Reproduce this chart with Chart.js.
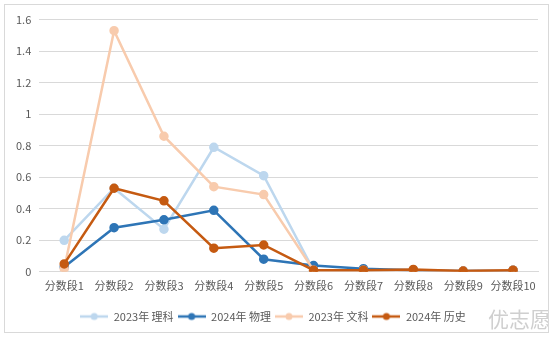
<!DOCTYPE html>
<html>
<head>
<meta charset="utf-8">
<script src="https://cdn.jsdelivr.net/npm/chart.js@4.4.1/dist/chart.umd.min.js"></script>
<style>
    body { margin: 0; background: #fff; }
    #box {
        position: absolute; left: 4px; top: 4px;
        width: 545px; height: 329px; box-sizing: border-box;
        border: 1px solid #d9d9d9; background: #fff;
    }
</style>
</head>
<body>
<div id="box"><canvas id="chart" width="543" height="327"></canvas></div>
<script>
const categories = ['分数段1', '分数段2', '分数段3', '分数段4', '分数段5', '分数段6', '分数段7', '分数段8', '分数段9', '分数段10'];
const seriesNames = ['2023年 理科', '2024年 物理', '2023年 文科', '2024年 历史'];
const like2023 = [0.20, 0.53, 0.27, 0.79, 0.61, 0.01, 0.01, 0.01, 0.005, 0.01];
const phys2024 = [0.03, 0.28, 0.33, 0.39, 0.08, 0.04, 0.02, 0.01, 0.005, 0.01];
const wen2023 = [0.02, 1.53, 0.86, 0.54, 0.49, 0.01, 0.01, 0.01, 0.005, 0.01];
const hist2024 = [0.05, 0.53, 0.45, 0.15, 0.17, 0.01, 0.01, 0.015, 0.005, 0.01];
const colors = ['#bdd7ee', '#2e75b6', '#f8cbad', '#c55a11'];

// small line + dot icon for the legend, like Excel
function legendIcon(color) {
    const c = document.createElement('canvas');
    c.width = 28; c.height = 10;
    const g = c.getContext('2d');
    g.strokeStyle = color;
    g.lineWidth = 2.5;
    g.beginPath();
    g.moveTo(0, 5); g.lineTo(28, 5);
    g.stroke();
    g.fillStyle = color;
    g.beginPath();
    g.arc(14, 5, 3.5, 0, Math.PI * 2);
    g.fill();
    return c;
}

function makeSet(i, data) {
    return {
        label: seriesNames[i],
        data: data,
        borderColor: colors[i],
        backgroundColor: colors[i],
        borderWidth: 2.5,
        pointRadius: 3.5,
        pointHoverRadius: 3.5,
        tension: 0,
        order: 4 - i
    };
}

// watermark text in the bottom right corner
const watermark = {
    id: 'watermark',
    afterDraw(chart) {
        const ctx = chart.ctx;
        ctx.save();
        ctx.font = '21px "Noto Sans CJK SC"';
        ctx.fillStyle = '#cfcfcf';
        ctx.textAlign = 'left';
        ctx.textBaseline = 'middle';
        ctx.fillText('优志愿', 483, 314);
        ctx.restore();
    }
};

const ctx = document.getElementById('chart').getContext('2d');
new Chart(ctx, {
    type: 'line',
    data: {
        labels: categories,
        datasets: [
            makeSet(0, like2023),
            makeSet(1, phys2024),
            makeSet(2, wen2023),
            makeSet(3, hist2024)
        ]
    },
    options: {
        responsive: false,
        animation: false,
        layout: { padding: { left: 3, right: 10, top: 11, bottom: 0 } },
        scales: {
            x: {
                offset: true,
                grid: { display: false, drawTicks: false },
                border: { color: '#d9d9d9' },
                ticks: {
                    color: '#595959',
                    font: { family: '"Noto Sans CJK SC"', size: 11 },
                    maxRotation: 0,
                    autoSkip: false,
                    padding: 7
                },
                afterFit(scale) { scale.height += 8; }
            },
            y: {
                min: 0,
                max: 1.6,
                grid: { color: '#d9d9d9', drawTicks: false },
                border: { display: false },
                ticks: {
                    stepSize: 0.2,
                    color: '#595959',
                    padding: 8,
                    font: { family: '"Noto Sans CJK SC"', size: 11 },
                    callback: v => String(Math.round(v * 10) / 10)
                }
            }
        },
        plugins: {
            legend: {
                position: 'bottom',
                labels: {
                    usePointStyle: true,
                    pointStyleWidth: 28,
                    boxHeight: 10,
                    padding: 4,
                    color: '#595959',
                    font: { family: '"Noto Sans CJK SC"', size: 11 },
                    sort: (a, b) => a.datasetIndex - b.datasetIndex,
                    generateLabels(chart) {
                        const items = Chart.defaults.plugins.legend.labels.generateLabels(chart);
                        items.forEach(it => { it.pointStyle = legendIcon(colors[it.datasetIndex]); });
                        return items;
                    }
                }
            },
            tooltip: { enabled: false }
        }
    },
    plugins: [watermark]
});
</script>
</body>
</html>
